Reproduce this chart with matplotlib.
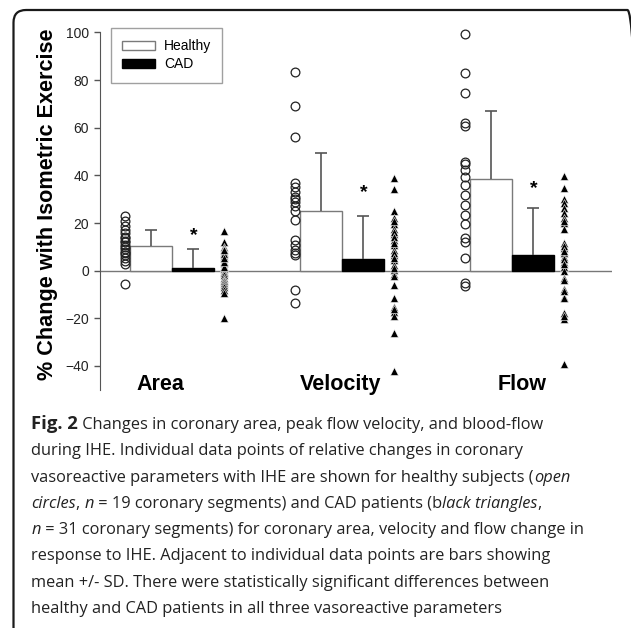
import matplotlib
matplotlib.use('Agg')
import matplotlib.pyplot as plt
from matplotlib.patches import FancyBboxPatch, Patch
import numpy as np

# values
categories = ['Area', 'Velocity', 'Flow']
healthy_mean = [10.4, 25.1, 38.4]
healthy_sd = [6.7, 24.5, 28.8]
cad_mean = [1.3, 5.0, 6.5]
cad_sd = [7.8, 18.0, 19.7]

healthy_area = [22.9, 20.8, 18.8, 17.0, 15.7, 14.2, 12.6, 11.9, 10.6, 9.0,
                8.0, 7.2, 6.5, 5.2, 4.0, 2.8, 10.0, 13.5, -5.5]
cad_area = [16.5, 12.0, 10.0, 9.0, 8.0, 7.3, 6.0, 5.2, 4.0, 3.1, 2.0, 1.0,
            0.5, 0.0, -0.5, -1.1, -2.0, 1.5, -3.0, -3.9, -4.5, -5.0, -6.0,
            7.0, -7.0, -8.1, 3.5, 8.5, -9.5, 5.5, -19.7]
healthy_vel = [83.6, 69.2, 56.0, 37.0, 35.3, 33.2, 31.1, 29.0, 27.2, 30.0,
               21.3, 12.9, 10.8, 8.7, 6.6, 7.5, 25.0, -8.1, -13.7]
cad_vel = [38.8, 34.2, 25.1, 22.0, 19.6, 17.4, 15.3, 12.9, 10.8, 8.7, 6.6,
           4.5, 2.4, 0.3, -1.4, -2.2, -6.0, -11.3, -15.1, -17.2, -18.9,
           -26.0, -42.0, 20.8, 16.3, 14.1, 11.8, 7.6, 5.5, 1.3, -16.0]
healthy_flow = [99.3, 82.9, 74.5, 61.9, 60.8, 45.8, 44.8, 42.3, 39.5, 36.0,
                31.8, 27.6, 23.4, 19.6, 13.6, 12.2, 5.5, -5.3, -6.3]
cad_flow = [39.8, 34.6, 30.0, 28.3, 26.2, 24.1, 22.0, 20.2, 17.4, 11.8, 9.4,
            7.3, 5.9, 3.8, 1.7, 0.0, -3.2, -7.8, -10.9, -17.9, -20.4, -39.3,
            -8.5, -4.0, -11.5, 21.0, 10.5, 8.3, 4.8, 2.7, -19.0]

healthy_points = [healthy_area, healthy_vel, healthy_flow]
cad_points = [cad_area, cad_vel, cad_flow]

yticks = [-40, -20, 0, 20, 40, 60, 80, 100]

caption = [
    [("Fig. 2", "bold"), (" Changes in coronary area, peak flow velocity, and blood-flow", "normal")],
    [("during IHE. Individual data points of relative changes in coronary", "normal")],
    [("vasoreactive parameters with IHE are shown for healthy subjects (", "normal"), ("open", "italic")],
    [("circles", "italic"), (", ", "normal"), ("n", "italic"), (" = 19 coronary segments) and CAD patients (b", "normal"),
     ("lack triangles", "italic"), (",", "normal")],
    [("n", "italic"), (" = 31 coronary segments) for coronary area, velocity and flow change in", "normal")],
    [("response to IHE. Adjacent to individual data points are bars showing", "normal")],
    [("mean +/- SD. There were statistically significant differences between", "normal")],
    [("healthy and CAD patients in all three vasoreactive parameters", "normal")],
]

W, H = 631, 628
fig = plt.figure(figsize=(W / 100, H / 100), dpi=100)
plt.rcParams['font.family'] = ['Liberation Sans', 'DejaVu Sans']

# rounded frame around the whole panel
frame = FancyBboxPatch((13.5 / W, -12 / H), (640 - 13.5) / W, (H - 10 + 12) / H,
                       boxstyle="round,pad=0,rounding_size=0.02",
                       transform=fig.transFigure, fill=False,
                       edgecolor='#1a1a1a', linewidth=1.6, clip_on=False)
fig.patches.append(frame)

ax = fig.add_axes([100 / W, 1 - 389.7 / H, 512 / W, 357.2 / H])
ax.set_xlim(-0.425, 2.587)
ax.set_ylim(-50, 100)

x = np.arange(len(categories))
w = 0.248
grey = '#555555'

ax.axhline(0, color='#777777', lw=1.0, zorder=1)
ax.bar(x - w / 2, healthy_mean, w, color='white', edgecolor='#7a7a7a', lw=1.0, zorder=2)
ax.bar(x + w / 2, cad_mean, w, color='black', edgecolor='black', lw=1.0, zorder=2)

# upward-only SD bars
cap = 0.035
for xs, m, s in [(x - w / 2, healthy_mean, healthy_sd), (x + w / 2, cad_mean, cad_sd)]:
    top = np.array(m) + np.array(s)
    ax.vlines(xs, m, top, color=grey, lw=1.2, zorder=3)
    ax.hlines(top, xs - cap, xs + cap, color=grey, lw=1.2, zorder=3)

star_offset = [5.8, 9.7, 8.2]
for i in range(len(categories)):
    hp = healthy_points[i]
    cp = cad_points[i]
    ax.plot([x[i] - 0.278] * len(hp), hp, 'o', ms=6.3, mfc='none', mec='#222222', mew=0.9,
            zorder=4, clip_on=False)
    ax.plot([x[i] + 0.305] * len(cp), cp, '^', ms=5.4, mfc='black', mec='white', mew=0.4,
            zorder=4, clip_on=False)
    ax.text(x[i] + w / 2, cad_mean[i] + cad_sd[i] + star_offset[i], '*', ha='center',
            va='center', fontsize=14, fontweight='bold')

label_shift = [-0.07, -0.01, 0.06]
for i, c in enumerate(categories):
    ax.text(x[i] + label_shift[i], -48, c, ha='center', va='center',
            fontsize=15.5, fontweight='bold')

ax.set_yticks(yticks)
ax.set_xticks([])
for s in ['top', 'right', 'bottom']:
    ax.spines[s].set_visible(False)
ax.spines['left'].set_color(grey)
ax.spines['left'].set_bounds(-50, 100)
ax.tick_params(axis='y', direction='out', length=4, width=1, color=grey,
               labelsize=10, pad=4, labelcolor='#222222')
ax.patch.set_visible(False)

fig.text(47 / W, 1 - 204 / H, '% Change with Isometric Exercise', rotation=90,
         ha='center', va='center', fontsize=15.6, fontweight='bold')

handles = [Patch(facecolor='white', edgecolor='#7a7a7a', label='Healthy'),
           Patch(facecolor='black', edgecolor='black', label='CAD')]
leg = ax.legend(handles=handles, loc='upper left', bbox_to_anchor=(0.0215, 1.012),
                borderaxespad=0, fontsize=10, frameon=True, fancybox=False,
                handlelength=2.4, handleheight=0.7, handletextpad=0.6,
                labelspacing=0.3, borderpad=0.8)
leg.get_frame().set_edgecolor('#888888')
leg.get_frame().set_linewidth(1.0)

# caption, set piece by piece so bold and italic runs sit on one line
fig.canvas.draw()
r = fig.canvas.get_renderer()
cap_size = 11.8
cap_font = ['Open Sans', 'DejaVu Sans']


def run_width(s, style):
    kw = dict(fontsize=cap_size, family=cap_font)
    if style == 'bold':
        kw['fontweight'] = 'bold'
        kw['fontsize'] = cap_size + 1.5
    if style == 'italic':
        kw['fontstyle'] = 'italic'
    a = fig.text(0, 0, 'X' + s + 'X', **kw)
    b = fig.text(0, 0, 'XX', **kw)
    wpx = a.get_window_extent(r).width - b.get_window_extent(r).width
    a.remove()
    b.remove()
    return wpx, kw


for li, line in enumerate(caption):
    xp = 31.5
    yb = 429 + li * 26.3
    for s, style in line:
        wpx, kw = run_width(s, style)
        fig.text(xp / W, 1 - yb / H, s, va='baseline', ha='left', color='#222222', **kw)
        xp += wpx

fig.savefig('out.png', dpi=100, facecolor='white')
